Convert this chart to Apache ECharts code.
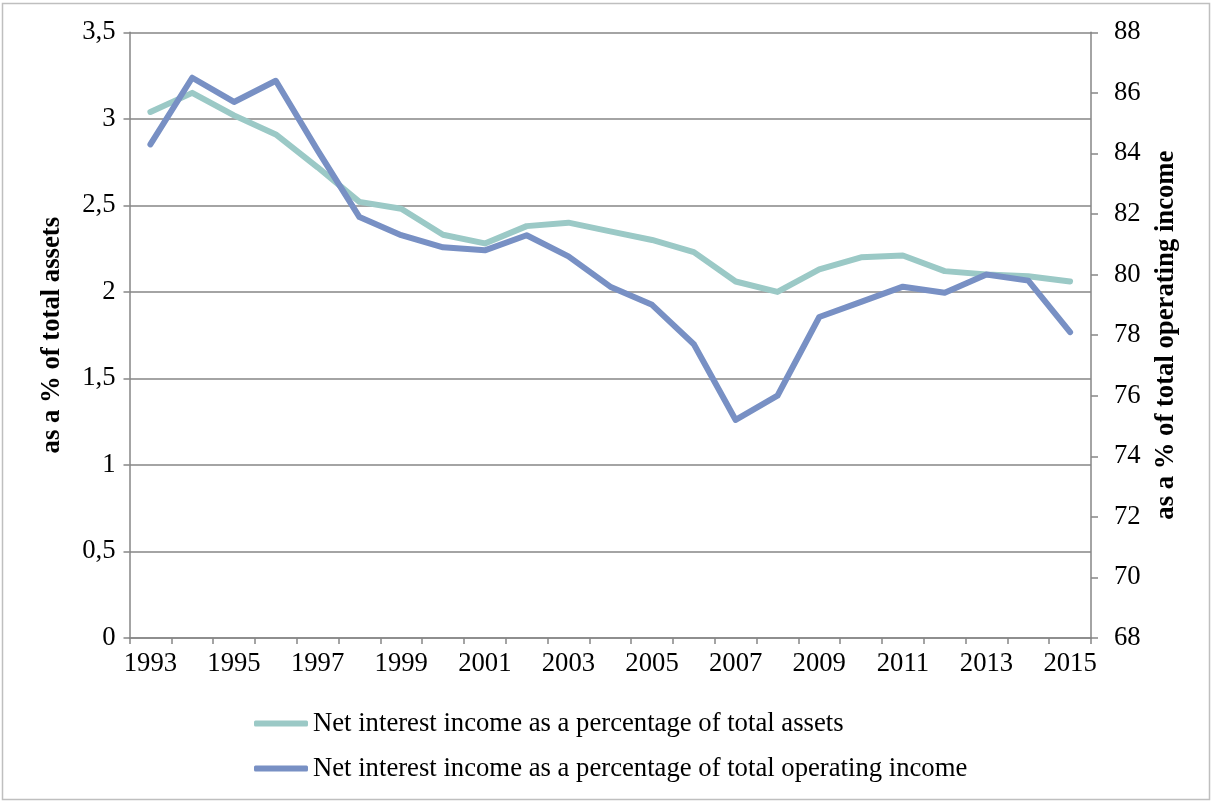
<!DOCTYPE html>
<html>
<head>
<meta charset="utf-8">
<script src="https://cdn.jsdelivr.net/npm/echarts@6/dist/echarts.min.js"></script>
<style>
html,body{margin:0;padding:0;background:#fff;}
#chart{width:1212px;height:802px;}
</style>
</head>
<body>
<div id="chart"></div>
<script>
const years = ['1993','1994','1995','1996','1997','1998','1999','2000','2001','2002','2003','2004','2005','2006','2007','2008','2009','2010','2011','2012','2013','2014','2015'];
const assetsPct = [3.04,3.15,3.02,2.91,2.72,2.52,2.48,2.33,2.28,2.38,2.40,2.35,2.30,2.23,2.06,2.00,2.13,2.20,2.21,2.12,2.10,2.09,2.06];
const operatingPct = [84.3,86.5,85.7,86.4,84.1,81.9,81.3,80.9,80.8,81.3,80.6,79.6,79.0,77.7,75.2,76.0,78.6,79.1,79.6,79.4,80.0,79.8,78.1];
const seriesNames = ['Net interest income as a percentage of total assets','Net interest income as a percentage of total operating income'];
const leftAxisName = 'as a % of total assets';
const rightAxisName = 'as a % of total operating income';

const chart = echarts.init(document.getElementById('chart'));
const font = '"Liberation Serif", "Times New Roman", serif';
const axisGray = '#868686';
const fs = 26.7;
chart.setOption({
  animation: false,
  textStyle: {fontFamily: font},
  graphic: [{
    type: 'rect', shape: {x: 2.5, y: 3.5, width: 1207, height: 796},
    style: {fill: 'none', stroke: '#bfbfbf', lineWidth: 1.5}, silent: true
  }],
  grid: {left: 129.5, right: 121, top: 32.3, bottom: 164, containLabel: false},
  legend: {
    orient: 'vertical', left: 249, top: 704,
    itemWidth: 54, itemHeight: 6, itemGap: 16, icon: 'roundRect',
    textStyle: {fontFamily: font, fontSize: fs, color: '#000', lineHeight: 29},
    data: seriesNames
  },
  xAxis: {
    type: 'category', data: years, boundaryGap: true,
    axisLine: {lineStyle: {color: axisGray, width: 1.5}},
    axisTick: {show: true, interval: 0, length: 6, lineStyle: {color: axisGray, width: 1.5}},
    axisLabel: {interval: 1, color: '#000', fontSize: fs, fontFamily: font, margin: 12},
    splitLine: {show: false}
  },
  yAxis: [{
    type: 'value', min: 0, max: 3.5, interval: 0.5, position: 'left',
    name: leftAxisName, nameLocation: 'middle', nameRotate: 90, nameGap: 64,
    nameTextStyle: {fontFamily: font, fontSize: fs, fontWeight: 'bold', color: '#000'},
    axisLine: {show: true, lineStyle: {color: axisGray, width: 1.5}},
    axisTick: {show: true, length: 6, lineStyle: {color: axisGray, width: 1.5}},
    axisLabel: {color: '#000', fontSize: fs, fontFamily: font, margin: 14,
      formatter: v => String(v).replace('.', ',')},
    splitLine: {show: true, lineStyle: {color: axisGray, width: 1.5}}
  }, {
    type: 'value', min: 68, max: 88, interval: 2, position: 'right',
    name: rightAxisName, nameLocation: 'middle', nameRotate: 90, nameGap: 62,
    nameTextStyle: {fontFamily: font, fontSize: fs, fontWeight: 'bold', color: '#000'},
    axisLine: {show: true, lineStyle: {color: axisGray, width: 1.5}},
    axisTick: {show: true, length: 7, lineStyle: {color: axisGray, width: 1.5}},
    axisLabel: {color: '#000', fontSize: fs, fontFamily: font, margin: 23},
    splitLine: {show: false}
  }],
  series: [{
    name: seriesNames[0], type: 'line', yAxisIndex: 0, data: assetsPct,
    showSymbol: false, symbol: 'none', color: '#9BC9C6',
    lineStyle: {width: 6, color: '#9BC9C6', cap: 'round', join: 'round'}
  }, {
    name: seriesNames[1], type: 'line', yAxisIndex: 1, data: operatingPct,
    showSymbol: false, symbol: 'none', color: '#7890C4',
    lineStyle: {width: 6, color: '#7890C4', cap: 'round', join: 'round'}
  }]
});
</script>
</body>
</html>
